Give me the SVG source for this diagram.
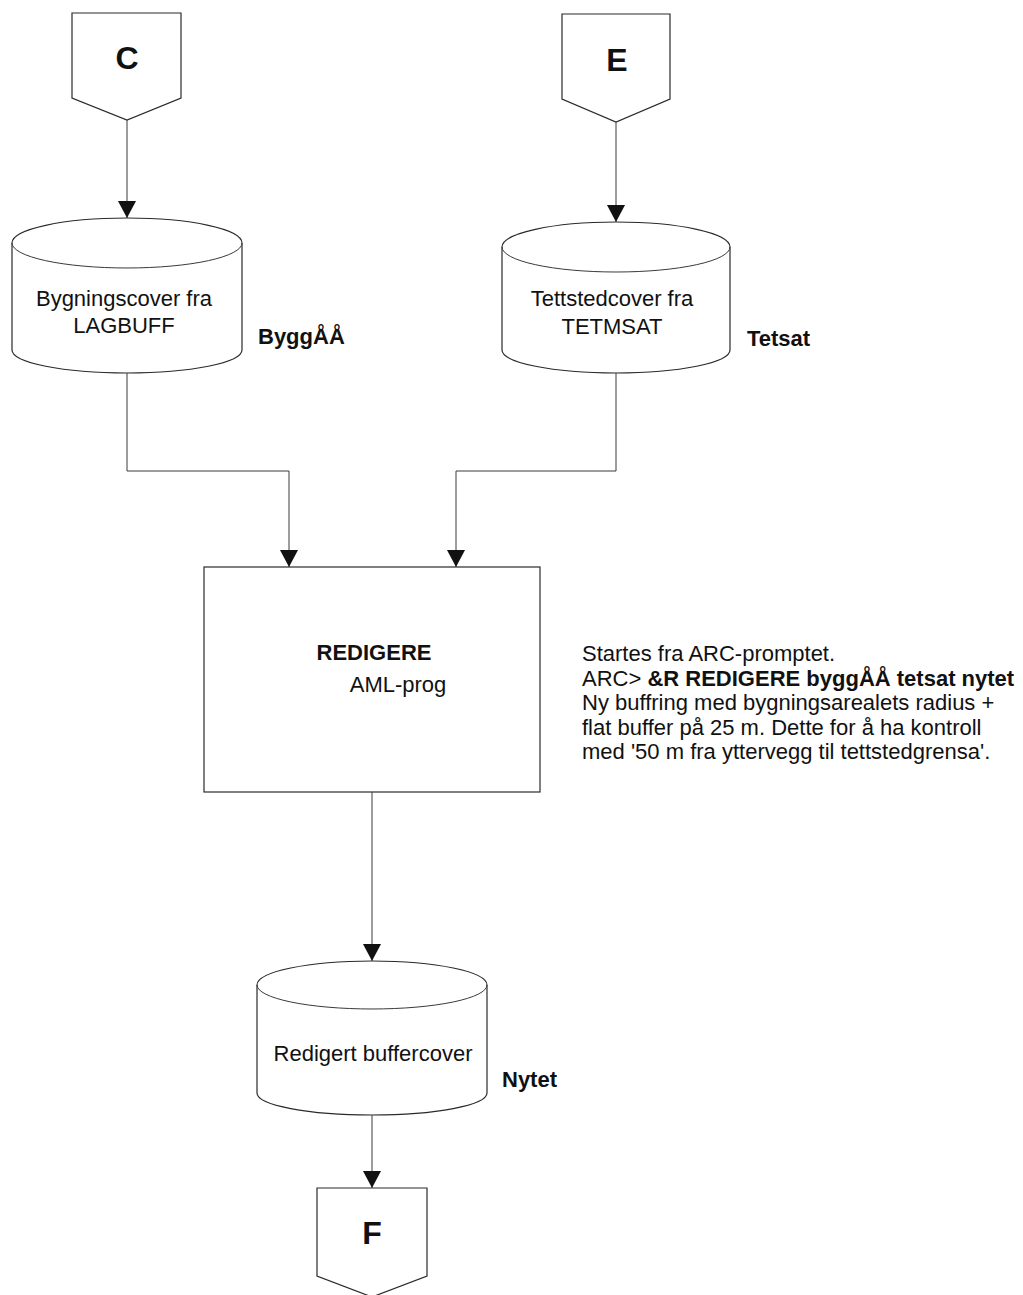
<svg xmlns="http://www.w3.org/2000/svg" width="1023" height="1295" viewBox="0 0 1023 1295">
  <style>
    .shape { fill: #ffffff; stroke: #2a2a2a; stroke-width: 1.2; }
    .wire { fill: none; stroke: #3a3a3a; stroke-width: 1; }
    .txt { font-family: "Liberation Sans", Arial, sans-serif; font-size: 22px; fill: #111; }
    .b { font-weight: bold; }
    .big { font-family: "Liberation Sans", Arial, sans-serif; font-size: 32px; font-weight: bold; fill: #111; text-anchor: middle; }
    .mid { text-anchor: middle; }
  </style>
  <defs>
    <marker id="arrow" markerUnits="userSpaceOnUse" markerWidth="18" markerHeight="18" viewBox="0 0 18 18" refX="17" refY="9" orient="auto">
      <path d="M0,0 L17,9 L0,18 Z" fill="#111"/>
    </marker>
  </defs>

  <!-- off-page connector C -->
  <g id="conn-c">
    <path class="shape" d="M72,13 L181,13 L181,98 L127,120 L72,98 Z"/>
    <text class="big" x="127" y="69">C</text>
  </g>

  <!-- off-page connector E -->
  <g id="conn-e">
    <path class="shape" d="M562,14 L670,14 L670,99 L616,122 L562,99 Z"/>
    <text class="big" x="617" y="71">E</text>
  </g>

  <!-- data store: building cover -->
  <g id="store-bygg">
    <path class="shape" d="M12,243 A115,25 0 0 1 242,243 L242,350 A115,23 0 0 1 12,350 Z"/>
    <path class="wire" d="M12,243 A115,25 0 0 0 242,243"/>
    <text class="txt mid" x="124" y="306">Bygningscover fra</text>
    <text class="txt mid" x="124" y="333">LAGBUFF</text>
    <text class="txt b" x="258" y="344">ByggÅÅ</text>
  </g>

  <!-- data store: settlement cover -->
  <g id="store-tetsat">
    <path class="shape" d="M502,247 A114,25 0 0 1 730,247 L730,350 A114,23 0 0 1 502,350 Z"/>
    <path class="wire" d="M502,247 A114,25 0 0 0 730,247"/>
    <text class="txt mid" x="612" y="306">Tettstedcover fra</text>
    <text class="txt mid" x="612" y="334">TETMSAT</text>
    <text class="txt b" x="747" y="346">Tetsat</text>
  </g>

  <!-- process: REDIGERE -->
  <g id="proc-redigere">
    <rect class="shape" x="204" y="567" width="336" height="225"/>
    <text class="txt b mid" x="374" y="660">REDIGERE</text>
    <text class="txt mid" x="398" y="692">AML-prog</text>
  </g>

  <!-- note -->
  <g id="note">
    <text class="txt" x="582" y="661">Startes fra ARC-promptet.</text>
    <text class="txt" x="582" y="686">ARC&gt; <tspan class="b">&amp;R REDIGERE byggÅÅ tetsat nytet</tspan></text>
    <text class="txt" x="582" y="710">Ny buffring med bygningsarealets radius +</text>
    <text class="txt" x="582" y="735">flat buffer på 25 m. Dette for å ha kontroll</text>
    <text class="txt" x="582" y="759">med '50 m fra yttervegg til tettstedgrensa'.</text>
  </g>

  <!-- data store: edited buffer cover -->
  <g id="store-nytet">
    <path class="shape" d="M257,985 A115,24 0 0 1 487,985 L487,1093 A115,22 0 0 1 257,1093 Z"/>
    <path class="wire" d="M257,985 A115,24 0 0 0 487,985"/>
    <text class="txt mid" x="373" y="1061">Redigert buffercover</text>
    <text class="txt b" x="502" y="1087">Nytet</text>
  </g>

  <!-- off-page connector F -->
  <g id="conn-f">
    <path class="shape" d="M317,1188 L427,1188 L427,1276 L372,1297 L317,1276 Z"/>
    <text class="big" x="372" y="1244">F</text>
  </g>

  <!-- connectors -->
  <g id="connectors">
    <path class="wire" d="M127,120 L127,218" marker-end="url(#arrow)"/>
    <path class="wire" d="M616,122 L616,222" marker-end="url(#arrow)"/>
    <path class="wire" d="M127,373 L127,471 L289,471 L289,567" marker-end="url(#arrow)"/>
    <path class="wire" d="M616,373 L616,471 L456,471 L456,567" marker-end="url(#arrow)"/>
    <path class="wire" d="M372,792 L372,961" marker-end="url(#arrow)"/>
    <path class="wire" d="M372,1115 L372,1188" marker-end="url(#arrow)"/>
  </g>
</svg>
